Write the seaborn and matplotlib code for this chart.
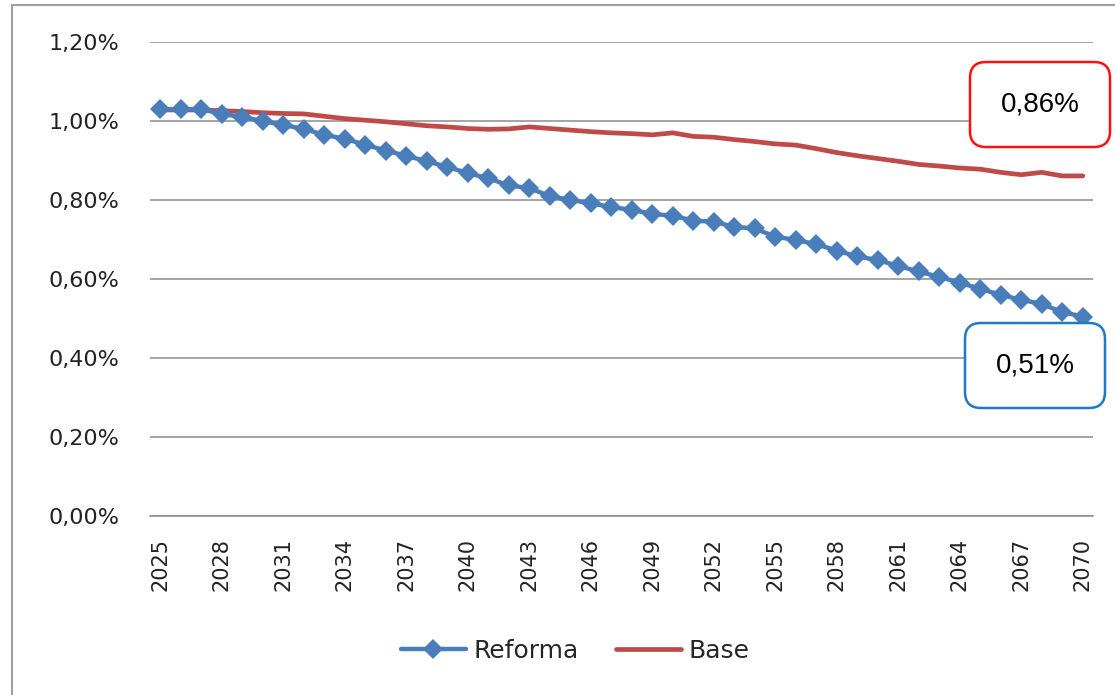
import numpy as np
import pandas as pd
import matplotlib
matplotlib.use("Agg")
import matplotlib.pyplot as plt
from matplotlib.ticker import FuncFormatter
from matplotlib.patches import FancyBboxPatch
from matplotlib.lines import Line2D
import seaborn as sns

years = list(range(2025, 2071))

reforma = [1.030, 1.030, 1.030, 1.018, 1.010, 1.000, 0.990, 0.980, 0.965, 0.955,
           0.940, 0.925, 0.912, 0.898, 0.884, 0.868, 0.855, 0.837, 0.830, 0.810,
           0.800, 0.792, 0.782, 0.775, 0.765, 0.760, 0.748, 0.745, 0.732, 0.728,
           0.707, 0.699, 0.688, 0.672, 0.657, 0.648, 0.633, 0.619, 0.605, 0.591,
           0.575, 0.560, 0.547, 0.537, 0.516, 0.505]

base = [1.028, 1.028, 1.028, 1.026, 1.024, 1.021, 1.019, 1.018, 1.012, 1.006,
        1.002, 0.998, 0.993, 0.988, 0.985, 0.981, 0.979, 0.980, 0.985, 0.981,
        0.977, 0.973, 0.970, 0.968, 0.965, 0.970, 0.961, 0.959, 0.953, 0.948,
        0.942, 0.939, 0.930, 0.920, 0.912, 0.905, 0.898, 0.890, 0.886, 0.881,
        0.878, 0.870, 0.864, 0.870, 0.861, 0.861]

labels = ["0,86%", "0,51%"]

blue = "#4a7ebb"
red = "#be4b48"

sns.set_style("white")
plt.rcParams["font.family"] = ["DejaVu Sans"]

df = pd.DataFrame({"year": years, "Reforma": reforma, "Base": base})

fig = plt.figure(figsize=(11.15, 6.95), dpi=100)
ax = fig.add_axes([150 / 1115, 1 - 516 / 695, (1093 - 150) / 1115, (516 - 42) / 695])

sns.lineplot(data=df, x="year", y="Base", ax=ax, color=red, linewidth=3.4, zorder=3)
sns.lineplot(data=df, x="year", y="Reforma", ax=ax, color=blue, linewidth=3.2,
             marker="D", markersize=10, markeredgewidth=0, zorder=4)

ax.set_xlim(2024.5, 2070.5)
ax.set_ylim(0, 1.2)
ax.set_yticks(np.arange(0, 1.21, 0.2))
ax.set_xticks(range(2025, 2071, 3))
ax.yaxis.set_major_formatter(FuncFormatter(lambda v, p: f"{v:.2f}%".replace(".", ",")))
ax.set_xlabel("")
ax.set_ylabel("")
ax.grid(axis="y", color="#8c8c8c", linewidth=1.1)
ax.set_axisbelow(True)
for s in ["top", "right", "left"]:
    ax.spines[s].set_visible(False)
ax.spines["bottom"].set_color("#8c8c8c")
ax.spines["bottom"].set_linewidth(1.1)
ax.tick_params(axis="y", length=0, pad=22, labelsize=16, labelcolor="#222222")
ax.tick_params(axis="x", length=0, pad=16, labelsize=15, labelcolor="#222222", rotation=90)

handles = [Line2D([], [], color=blue, linewidth=3.2, marker="D", markersize=10, markeredgewidth=0),
           Line2D([], [], color=red, linewidth=3.4)]
fig.legend(handles, ["Reforma", "Base"], loc="center", bbox_to_anchor=(575 / 1115, 1 - 651 / 695),
           ncol=2, frameon=False, fontsize=18, handlelength=2.6, handletextpad=0.3, columnspacing=1.5)

# annotation boxes with final values
boxes = [(9.70, 5.48, "#ff1010", labels[0]), (9.65, 2.87, "#1f78c8", labels[1])]
for x0, y0, col, txt in boxes:
    patch = FancyBboxPatch((x0, y0), 1.40, 0.85, boxstyle="round,pad=0,rounding_size=0.16",
                           transform=fig.dpi_scale_trans, facecolor="white", edgecolor=col,
                           linewidth=1.8, zorder=10)
    fig.add_artist(patch)
    fig.text(x0 + 0.70, y0 + 0.425, txt, transform=fig.dpi_scale_trans, ha="center", va="center",
             fontsize=20, family="Liberation Sans", color="black", zorder=11)

# chart area border (left and top)
fig.add_artist(Line2D([12 / 1115, 12 / 1115], [0, 1 - 5 / 695], transform=fig.transFigure,
                      color="#a0a0a0", linewidth=1.5))
fig.add_artist(Line2D([12 / 1115, 1], [1 - 5 / 695, 1 - 5 / 695], transform=fig.transFigure,
                      color="#a0a0a0", linewidth=1.5))

fig.savefig("out.png", dpi=100, facecolor="white")
